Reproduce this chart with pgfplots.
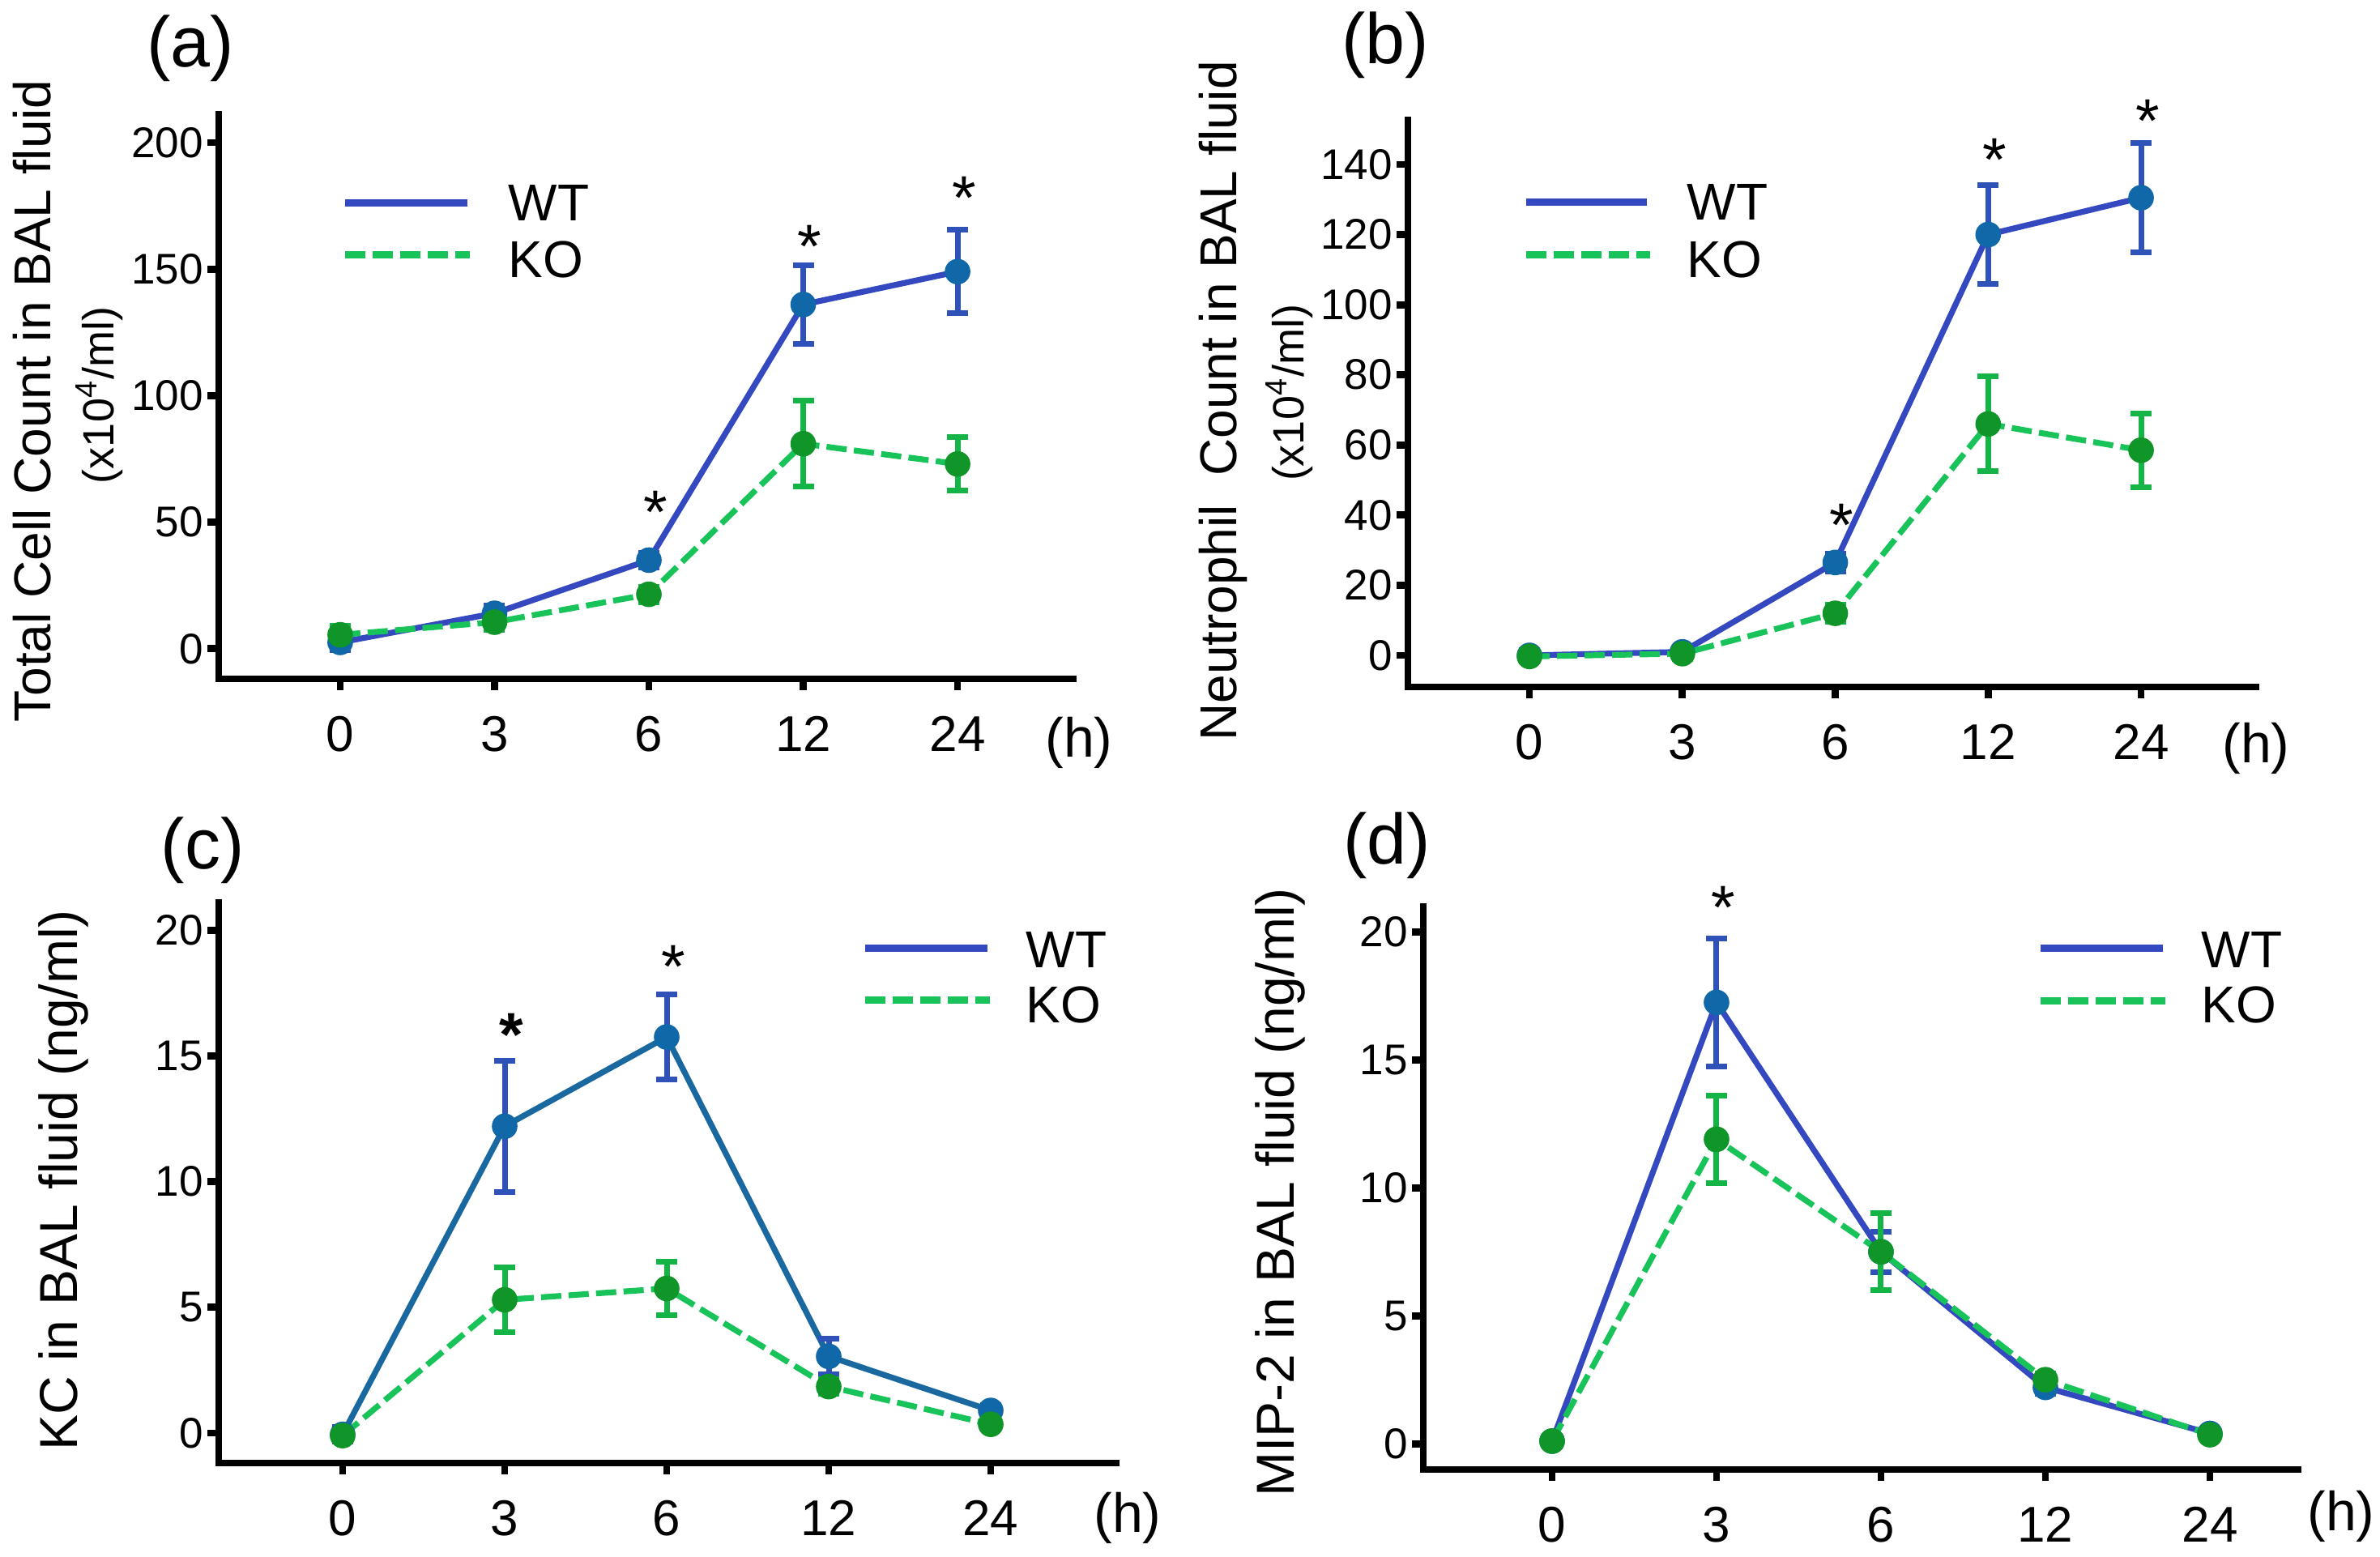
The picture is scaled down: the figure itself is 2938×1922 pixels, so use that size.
\documentclass[border=0pt]{standalone}
\usepackage{pgfplots}
\pgfplotsset{compat=1.18}
\usepackage{fontspec}
\setmainfont{Liberation Sans}
\newcommand\fs[1]{\fontsize{#1}{#1}\selectfont}
\definecolor{wtline}{RGB}{52,72,192}
\definecolor{wtlinec}{RGB}{26,104,160}
\definecolor{wterr}{RGB}{47,82,184}
\definecolor{wtmark}{RGB}{16,104,168}
\definecolor{koline}{RGB}{24,196,90}
\definecolor{koerr}{RGB}{20,180,70}
\definecolor{komark}{RGB}{16,150,40}
\pgfplotsset{
  panel/.style={
    scale only axis, anchor=south west, clip=false,
    axis x line*=bottom, axis y line*=left,
    axis line style={line width=2pt, black, line cap=rect},
    tick style={line width=2.2pt, black},
    tick align=outside, major tick length=3.5pt,
    xtick={0,1,2,3,4}, xticklabels={0,3,6,12,24},
    /pgf/number format/assume math mode=true,
    yticklabel style={font=\fs{13.25}, xshift=2.2pt},
    xticklabel style={font=\fs{15.5}, yshift=-4.5pt},
  },
  wtbase/.style={line width=1.8pt, mark=*, mark size=3.75pt,
    mark options={solid, fill=wtmark, draw=wtmark, line width=0.4pt},
    error bars/.cd, y dir=both, y explicit,
    error bar style={line width=1.75pt, color=wterr, solid},
    error mark options={rotate=90, mark size=3.25pt, line width=1.75pt, color=wterr, solid}},
  wt/.style={color=wtline, wtbase},
  wtc/.style={color=wtlinec, wtbase},
  ko/.style={color=koline, line width=1.8pt, dash pattern=on 6.25pt off 2.25pt, mark=*, mark size=3.75pt,
    mark options={solid, fill=komark, draw=komark, line width=0.4pt},
    error bars/.cd, y dir=both, y explicit,
    error bar style={line width=1.75pt, color=koerr, solid},
    error mark options={rotate=90, mark size=3.25pt, line width=1.75pt, color=koerr, solid}},
}
\tikzset{starlbl/.style={font=\fs{19}, anchor=base, yshift=-10.9pt, xshift=2pt}}
\begin{document}
\begin{tikzpicture}[x=0.25pt,y=-0.25pt]
\useasboundingbox (0,0) rectangle (2938,1922);
\coordinate (A) at (270,838);
\coordinate (B) at (1738,848);
\coordinate (C) at (270,1806);
\coordinate (D) at (1757,1814);

% (a)
\begin{axis}[panel, at={(A)}, width=263.75pt, height=174.25pt,
  xmin=-0.787, xmax=4.75, ymin=-11.9, ymax=211.2, ytick={0,50,100,150,200}]
\addplot[wt] coordinates {(0,2.5) +- (0,3) (1,14) +- (0,3) (2,35) +- (0,3) (3,136) +- (0,15.5) (4,149) +- (0,16.5)};
\addplot[ko] coordinates {(0,5.5) +- (0,3.5) (1,10.5) +- (0,3) (2,21.5) +- (0,3) (3,81) +- (0,17) (4,73) +- (0,10.5)};
\node[starlbl] at (axis cs:2,59.6) {*};
\node[starlbl] at (axis cs:3,164.5) {*};
\node[starlbl] at (axis cs:4,183.6) {*};
\end{axis}

% (b)
\begin{axis}[panel, at={(B)}, width=261.75pt, height=175pt,
  xmin=-0.795, xmax=4.752, ymin=-9.0, ymax=152.7, ytick={0,20,...,140}]
\addplot[wt] coordinates {(0,0) +- (0,1.5) (1,1) +- (0,1.5) (2,26.5) +- (0,2.5) (3,120) +- (0,14) (4,130.5) +- (0,15.5)};
\addplot[ko] coordinates {(0,-0.3) +- (0,1.5) (1,0.5) +- (0,1.5) (2,12) +- (0,2.5) (3,66) +- (0,13.5) (4,58.5) +- (0,10.5)};
\node[starlbl] at (axis cs:2,41.2) {*};
\node[starlbl] at (axis cs:3,145.3) {*};
\node[starlbl] at (axis cs:4,156.4) {*};
\end{axis}

% (c)
\begin{axis}[panel, at={(C)}, width=277pt, height=173pt,
  xmin=-0.765, xmax=4.775, ymin=-1.19, ymax=21.1, ytick={0,5,...,20}]
\addplot[wtc] coordinates {(0,-0.05) +- (0,0.3) (1,12.2) +- (0,2.6) (2,15.75) +- (0,1.7) (3,3.05) +- (0,0.7) (4,0.9) +- (0,0.2)};
\addplot[ko] coordinates {(0,-0.1) +- (0,0.2) (1,5.3) +- (0,1.3) (2,5.75) +- (0,1.05) (3,1.85) +- (0,0.3) (4,0.35) +- (0,0.15)};
\node[starlbl, font=\fs{19}\bfseries] at (axis cs:1,16.4) {*};
\node[starlbl] at (axis cs:2,19.1) {*};
\end{axis}

% (d)
\begin{axis}[panel, at={(D)}, width=270pt, height=173.75pt,
  xmin=-0.783, xmax=4.537, ymin=-1.01, ymax=21.0, ytick={0,5,...,20}]
\addplot[wt] coordinates {(0,0.1) +- (0,0.2) (1,17.25) +- (0,2.5) (2,7.5) +- (0,0.8) (3,2.2) +- (0,0.25) (4,0.4) +- (0,0.15)};
\addplot[ko] coordinates {(0,0.1) +- (0,0.2) (1,11.9) +- (0,1.7) (2,7.5) +- (0,1.5) (3,2.5) +- (0,0.25) (4,0.35) +- (0,0.1)};
\node[starlbl] at (axis cs:1,21.5) {*};
\end{axis}

% panel labels
\node[font=\fs{22}] at (235,60) {(a)};
\node[font=\fs{22}] at (1710,56) {(b)};
\node[font=\fs{22}] at (250,1050) {(c)};
\node[font=\fs{22}] at (1712,1044) {(d)};
% (h)
\node[font=\fs{17}] at (1332,917) {(h)};
\node[font=\fs{17}] at (2785,924) {(h)};
\node[font=\fs{17}] at (1392,1874) {(h)};
\node[font=\fs{17}] at (2890,1872) {(h)};
% y labels
\node[rotate=90, font=\fs{16}] at (40,495) {Total Cell Count in BAL fluid};
\node[rotate=90, font=\fs{13.5}] at (123,488) {(x10\textsuperscript{4}/ml)};
\node[rotate=90, font=\fs{16}] at (1510,495) {Neutrophil\ \ Count in BAL fluid};
\node[rotate=90, font=\fs{13.5}] at (1592,485) {(x10\textsuperscript{4}/ml)};
\node[rotate=90, font=\fs{16.5}] at (78,1457) {KC in BAL fluid (ng/ml)};
\node[rotate=90, font=\fs{16.5}] at (1580,1472) {MIP-2 in BAL fluid (ng/ml)};
% legends
\begin{scope}[every node/.style={anchor=west, inner sep=0pt, font=\fs{16}}]
\draw[wtline, line width=2.25pt] (426,251) -- (577,251);
\draw[koline, line width=2.25pt, dash pattern=on 6.25pt off 2.25pt] (426,315) -- (580,315);
\node at (627,251) {WT}; \node at (627,320) {KO};
\draw[wtline, line width=2.25pt] (1884,250) -- (2033,250);
\draw[koline, line width=2.25pt, dash pattern=on 6.25pt off 2.25pt] (1884,315) -- (2037,315);
\node at (2082,250) {WT}; \node at (2082,320) {KO};
\draw[wtline, line width=2.25pt] (1068,1171) -- (1219,1171);
\draw[koline, line width=2.25pt, dash pattern=on 6.25pt off 2.25pt] (1068,1235) -- (1222,1235);
\node at (1266,1172) {WT}; \node at (1266,1240) {KO};
\draw[wtline, line width=2.25pt] (2519,1171) -- (2670,1171);
\draw[koline, line width=2.25pt, dash pattern=on 6.25pt off 2.25pt] (2519,1236) -- (2673,1236);
\node at (2717,1172) {WT}; \node at (2717,1240) {KO};
\end{scope}
\end{tikzpicture}
\end{document}
